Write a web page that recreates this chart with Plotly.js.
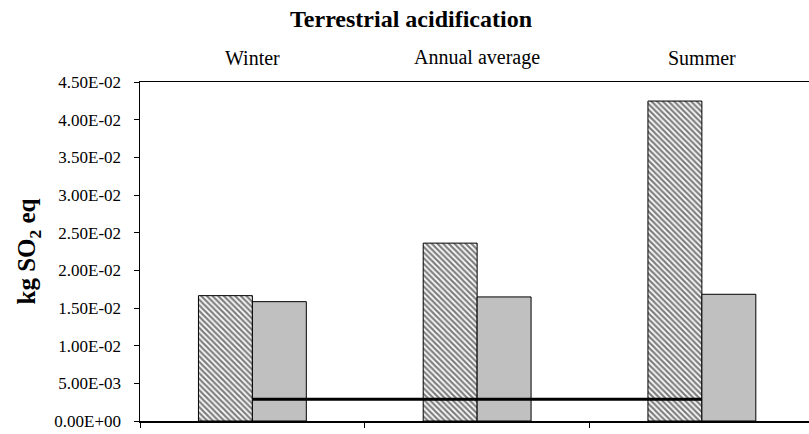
<!DOCTYPE html>
<html>
<head>
<meta charset="utf-8">
<script src="https://cdn.plot.ly/plotly-3.0.1.min.js"></script>
<style>
html,body{margin:0;padding:0;background:#fff;}
#chart{width:809px;height:434px;}
</style>
</head>
<body>
<div id="chart"></div>
<script>
const categories = ["Winter", "Annual average", "Summer"];
const hatchedValues = [0.01664, 0.02361, 0.04247];
const grayValues = [0.01584, 0.01647, 0.01682];
const lineValues = [0.00289, 0.00289, 0.00289];
const yTickVals = [0, 0.005, 0.01, 0.015, 0.02, 0.025, 0.03, 0.035, 0.04, 0.045];
const yTickText = ["0.00E+00", "5.00E-03", "1.00E-02", "1.50E-02", "2.00E-02", "2.50E-02", "3.00E-02", "3.50E-02", "4.00E-02", "4.50E-02"];
const chartTitle = "Terrestrial acidification";
const yTitle = "kg SO<sub>2</sub> eq";

const W = 809, H = 434;
const L = 140, R = 0, T = 82, B = 13;
const plotW = W - L - R;
const plotH = H - T - B;
const catW = 224.75;
const serif = "Liberation Serif, Times New Roman, serif";

const traces = [
  {
    type: "bar", x: categories, y: hatchedValues, name: "hatched",
    marker: {
      color: "#ffffff",
      line: {color: "#000000", width: 1},
      pattern: {shape: "\\", fgcolor: "#000000", bgcolor: "#ffffff", size: 4, solidity: 0.55, fillmode: "overlay"}
    },
    hoverinfo: "skip"
  },
  {
    type: "bar", x: categories, y: grayValues, name: "gray",
    marker: {color: "#c0c0c0", line: {color: "#000000", width: 1}},
    hoverinfo: "skip"
  },
  {
    type: "scatter", mode: "lines", x: categories, y: lineValues, name: "line",
    line: {color: "#000000", width: 2.8}, hoverinfo: "skip"
  }
];

// category labels drawn at top, centred over each category
const annotations = categories.map((c) => ({
  text: c, xref: "x", yref: "paper",
  x: c, y: 1 + (T - 58) / plotH,
  xanchor: "center", yanchor: "middle", showarrow: false,
  font: {family: serif, size: 20, color: "#000"}
}));

const layout = {
  width: W, height: H,
  margin: {l: L, r: R, t: T, b: B},
  paper_bgcolor: "#ffffff", plot_bgcolor: "#ffffff",
  showlegend: false,
  barmode: "group", bargap: 0.52, bargroupgap: 0,
  title: {
    text: "<b>" + chartTitle + "</b>",
    xref: "container", yref: "container",
    x: 411 / W, xanchor: "center", y: 1 - 19 / H, yanchor: "middle",
    font: {family: serif, size: 24, color: "#000"}
  },
  xaxis: {
    type: "category",
    range: [-0.5, -0.5 + plotW / catW],
    showticklabels: false,
    tickson: "boundaries",
    ticks: "outside", ticklen: 5, tickcolor: "#000", tickwidth: 1,
    showline: true, linecolor: "#000", linewidth: 1.5, mirror: true,
    showgrid: false, zeroline: false, fixedrange: true
  },
  yaxis: {
    range: [0, 0.045],
    tickvals: yTickVals, ticktext: yTickText,
    ticks: "outside", ticklen: 5, tickcolor: "#000", tickwidth: 1,
    ticklabelstandoff: 9,
    tickfont: {family: serif, size: 17, color: "#000"},
    showline: true, linecolor: "#000", linewidth: 1.5,
    showgrid: false, zeroline: false, fixedrange: true,
    automargin: false,
    title: {text: "<b>" + yTitle + "</b>", font: {family: serif, size: 25, color: "#000"}, standoff: 11}
  },
  annotations: annotations
};

Plotly.newPlot("chart", traces, layout, {displayModeBar: false, staticPlot: true});
</script>
</body>
</html>
